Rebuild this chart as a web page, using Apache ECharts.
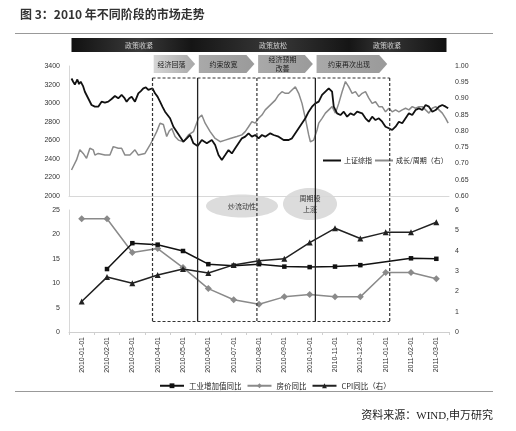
<html>
<head>
    <meta http-equiv="Content-Type" content="text/html; charset=utf-8" />
    <script type="text/javascript" src="https://cdn.jsdelivr.net/npm/echarts@6.0.0/dist/echarts.min.js"></script>
</head>
<body style="margin:0;background:#fff">
<div id="main" style="width:516px;height:431px"></div>

<script type="text/javascript">
    // 上证综指（左轴）
    var shDates = ['2010-01-04','2010-01-06','2010-01-08','2010-01-11','2010-01-13','2010-01-15','2010-01-18','2010-01-20','2010-01-25','2010-01-28',
        '2010-02-01','2010-02-05','2010-02-09','2010-02-13','2010-02-17','2010-02-21','2010-02-25','2010-03-01','2010-03-05','2010-03-08',
        '2010-03-11','2010-03-14','2010-03-17','2010-03-21','2010-03-25','2010-03-28','2010-03-31','2010-04-03','2010-04-06','2010-04-11',
        '2010-04-14','2010-04-17','2010-04-20','2010-04-23','2010-04-26','2010-05-02','2010-05-06','2010-05-10','2010-05-14','2010-05-18',
        '2010-05-22','2010-05-26','2010-05-30','2010-06-04','2010-06-09','2010-06-15','2010-06-21','2010-06-25','2010-06-29','2010-07-03',
        '2010-07-07','2010-07-11','2010-07-15','2010-07-19','2010-07-23','2010-07-27','2010-07-31','2010-08-04','2010-08-08','2010-08-12',
        '2010-08-16','2010-08-20','2010-08-24','2010-08-30','2010-09-03','2010-09-09','2010-09-15','2010-09-21','2010-09-25','2010-09-29',
        '2010-10-03','2010-10-07','2010-10-11','2010-10-15','2010-10-19','2010-10-23','2010-10-27','2010-10-31','2010-11-04','2010-11-08',
        '2010-11-12','2010-11-14','2010-11-18','2010-11-22','2010-11-26','2010-11-30','2010-12-04','2010-12-08','2010-12-12','2010-12-14',
        '2010-12-18','2010-12-22','2010-12-26','2010-12-30','2011-01-03','2011-01-07','2011-01-11','2011-01-15','2011-01-19','2011-01-23',
        '2011-01-27','2011-01-31','2011-02-04','2011-02-08','2011-02-12','2011-02-16','2011-02-20','2011-02-24','2011-02-28','2011-03-04',
        '2011-03-08','2011-03-12','2011-03-16','2011-03-20','2011-03-24','2011-03-28','2011-03-31'];
    var shValues = [3265,3230,3200,3255,3205,3231,3180,3123,3034,2980,
        2962,2962,3016,3005,3016,3045,3077,3052,3088,3060,
        3016,3050,3070,3016,3106,3130,3160,3170,3142,3160,
        3106,3070,3016,2960,2908,2837,2746,2692,2638,2585,
        2620,2657,2567,2538,2603,2567,2603,2549,2441,2388,
        2441,2495,2459,2513,2567,2621,2639,2675,2639,2657,
        2621,2657,2639,2675,2657,2639,2603,2603,2621,2675,
        2729,2783,2837,2908,2962,2998,3016,3088,3124,3160,
        3124,2962,2890,2872,2908,2854,2890,2872,2908,2926,
        2890,2837,2800,2854,2818,2837,2800,2746,2729,2711,
        2746,2800,2783,2837,2890,2872,2926,2944,2926,2980,
        2962,2908,2926,2962,2980,2962,2944];

    // 成长/周期（右轴）
    var ratioDates = ['2010-01-04','2010-01-06','2010-01-10','2010-01-14','2010-01-18','2010-01-22','2010-01-26','2010-01-30','2010-02-01','2010-02-05',
        '2010-02-13','2010-02-19','2010-02-23','2010-03-01','2010-03-05','2010-03-09','2010-03-15','2010-03-21','2010-03-25','2010-04-02',
        '2010-04-08','2010-04-12','2010-04-16','2010-04-20','2010-04-24','2010-04-28','2010-05-01','2010-05-04','2010-05-08','2010-05-12',
        '2010-05-18','2010-05-24','2010-05-30','2010-06-01','2010-06-05','2010-06-09','2010-06-13','2010-06-19','2010-06-25','2010-07-01',
        '2010-07-07','2010-07-13','2010-07-21','2010-07-27','2010-07-31','2010-08-04','2010-08-08','2010-08-12','2010-08-16','2010-08-20',
        '2010-08-24','2010-08-28','2010-09-01','2010-09-05','2010-09-09','2010-09-13','2010-09-17','2010-09-21','2010-09-25','2010-09-29',
        '2010-10-03','2010-10-07','2010-10-11','2010-10-15','2010-10-17','2010-10-21','2010-10-25','2010-10-27','2010-10-31','2010-11-04',
        '2010-11-08','2010-11-12','2010-11-16','2010-11-20','2010-11-24','2010-11-28','2010-11-30','2010-12-02','2010-12-06','2010-12-10',
        '2010-12-14','2010-12-18','2010-12-22','2010-12-26','2010-12-30','2011-01-03','2011-01-07','2011-01-11','2011-01-15','2011-01-19',
        '2011-01-23','2011-01-27','2011-01-31','2011-02-04','2011-02-08','2011-02-12','2011-02-16','2011-02-20','2011-02-24','2011-02-28',
        '2011-03-04','2011-03-08','2011-03-12','2011-03-16','2011-03-20','2011-03-24','2011-03-28','2011-03-31'];
    var ratioValues = [0.680,0.675,0.711,0.742,0.731,0.716,0.747,0.742,0.726,0.731,
        0.726,0.726,0.752,0.747,0.747,0.726,0.726,0.742,0.726,0.731,
        0.757,0.777,0.798,0.824,0.820,0.783,0.800,0.808,0.783,0.772,
        0.767,0.788,0.798,0.800,0.839,0.849,0.824,0.798,0.777,0.767,
        0.772,0.777,0.783,0.788,0.798,0.813,0.829,0.824,0.839,0.849,
        0.865,0.875,0.885,0.895,0.911,0.921,0.916,0.916,0.926,0.936,
        0.916,0.885,0.839,0.788,0.767,0.772,0.803,0.824,0.839,0.855,
        0.865,0.875,0.855,0.885,0.921,0.952,0.957,0.936,0.916,0.921,
        0.906,0.916,0.921,0.901,0.885,0.890,0.875,0.875,0.859,0.870,
        0.859,0.865,0.859,0.865,0.870,0.865,0.875,0.870,0.875,0.875,
        0.865,0.855,0.870,0.875,0.865,0.855,0.839,0.824];

    // 月度数据
    var months = ['2010-01-01','2010-02-01','2010-03-01','2010-04-01','2010-05-01','2010-06-01','2010-07-01','2010-08-01',
        '2010-09-01','2010-10-01','2010-11-01','2010-12-01','2011-01-01','2011-02-01','2011-03-01'];
    var ipValues = [null, 12.9, 18.2, 17.9, 16.6, 13.9, 13.6, 13.9, 13.4, 13.3, 13.4, 13.7, null, 15.1, 15.0];
    var housePrice = [23.2, 23.2, 16.3, 17.1, 13.2, 8.9, 6.6, 5.7, 7.2, 7.7, 7.2, 7.2, 12.2, 12.2, 10.9];
    var cpiValues = [1.5, 2.7, 2.4, 2.8, 3.1, 2.9, 3.3, 3.5, 3.6, 4.4, 5.1, 4.6, 4.9, 4.9, 5.4];

    // 阶段划分
    var phaseDates = ['2010-04-11', '2010-06-04', '2010-08-14', '2010-10-23', '2011-01-20'];
    var phaseNames = ['经济回落', '约束放宽', '经济预期\n改善', '约束再次出现'];
    var policyNames = ['政策收紧', '政策放松', '政策收紧'];

    var cjk = '"Noto Sans CJK SC", sans-serif';
    var latin = '"Liberation Sans", Arial, sans-serif';

    function zip(a, b) {
        var out = [];
        for (var i = 0; i < a.length; i++) out.push([a[i], b[i]]);
        return out;
    }

    function toTime(s) {
        var p = s.split('-');
        return new Date(+p[0], +p[1] - 1, +p[2]).getTime();
    }

    var axisTxt = {fontSize: 7, color: '#333', fontFamily: latin};

    var option = {
        animation: false,
        backgroundColor: '#fff',
        grid: [
            {left: 69, right: 67, top: 66, height: 130},
            {left: 69, right: 67, top: 210, height: 122}
        ],
        legend: [
            {
                left: 318, top: 152, itemWidth: 18, itemHeight: 2, itemGap: 3,
                icon: 'rect',
                textStyle: {fontSize: 7, fontFamily: cjk, color: '#222', padding: [0, 0, 0, -2]},
                data: ['上证综指', '成长/周期（右）']
            },
            {
                left: 154, top: 377, itemWidth: 24, itemHeight: 6, itemGap: 5,
                textStyle: {fontSize: 7.5, fontFamily: cjk, color: '#222'},
                data: ['工业增加值同比', '房价同比', 'CPI同比（右）']
            }
        ],
        xAxis: [
            {
                type: 'time', gridIndex: 0,
                min: toTime('2010-01-01'), max: toTime('2011-04-01'),
                axisLine: {lineStyle: {color: '#d8d8d8'}},
                axisTick: {show: false},
                axisLabel: {show: false},
                splitLine: {show: false}
            },
            {
                type: 'category', gridIndex: 1, data: months, boundaryGap: true,
                axisLine: {lineStyle: {color: '#cfcfcf'}},
                axisTick: {show: true, length: 3, lineStyle: {color: '#cfcfcf'}},
                axisLabel: Object.assign({rotate: 90, interval: 0, margin: 5}, axisTxt)
            }
        ],
        yAxis: [
            {
                type: 'value', gridIndex: 0, min: 2000, max: 3400, interval: 200,
                axisLine: {show: true, lineStyle: {color: '#d8d8d8'}},
                axisTick: {show: false}, splitLine: {show: false},
                axisLabel: Object.assign({margin: 9, formatter: function (v) { return String(v); }}, axisTxt)
            },
            {
                type: 'value', gridIndex: 0, min: 0.6, max: 1.0, interval: 0.05, position: 'right',
                axisLine: {show: false}, axisTick: {show: false}, splitLine: {show: false},
                axisLabel: Object.assign({margin: 6, formatter: function (v) { return v.toFixed(2); }}, axisTxt)
            },
            {
                type: 'value', gridIndex: 1, min: 0, max: 25, interval: 5,
                axisLine: {show: true, lineStyle: {color: '#d8d8d8'}},
                axisTick: {show: false}, splitLine: {show: false},
                axisLabel: Object.assign({margin: 9}, axisTxt)
            },
            {
                type: 'value', gridIndex: 1, min: 0, max: 6, interval: 1, position: 'right',
                axisLine: {show: false}, axisTick: {show: false}, splitLine: {show: false},
                axisLabel: Object.assign({margin: 6}, axisTxt)
            }
        ],
        series: [
            {
                name: '上证综指', type: 'line', xAxisIndex: 0, yAxisIndex: 0,
                data: zip(shDates, shValues), showSymbol: false, z: 4,
                itemStyle: {color: '#111'}, lineStyle: {color: '#111', width: 1.8}
            },
            {
                name: '成长/周期（右）', type: 'line', xAxisIndex: 0, yAxisIndex: 1,
                data: zip(ratioDates, ratioValues), showSymbol: false, z: 3,
                itemStyle: {color: '#8a8a8a'}, lineStyle: {color: '#8a8a8a', width: 1.5}
            },
            {
                name: '工业增加值同比', type: 'line', xAxisIndex: 1, yAxisIndex: 2,
                data: ipValues, connectNulls: true, symbol: 'rect', symbolSize: 4.5, z: 4,
                itemStyle: {color: '#111'}, lineStyle: {color: '#111', width: 1.5}
            },
            {
                name: '房价同比', type: 'line', xAxisIndex: 1, yAxisIndex: 2,
                data: housePrice, symbol: 'diamond', symbolSize: 7, z: 3,
                itemStyle: {color: '#8a8a8a'}, lineStyle: {color: '#8a8a8a', width: 1.5}
            },
            {
                name: 'CPI同比（右）', type: 'line', xAxisIndex: 1, yAxisIndex: 3,
                data: cpiValues, symbol: 'triangle', symbolSize: 6, z: 4,
                itemStyle: {color: '#222'}, lineStyle: {color: '#222', width: 1.5}
            }
        ]
    };

    var myChart = echarts.init(document.getElementById('main'));
    myChart.setOption(option);

    // 注释图形：标题、阶段箭头、虚线框、椭圆
    function buildGraphic() {
        var px = phaseDates.map(function (d) {
            return myChart.convertToPixel({xAxisIndex: 0}, toTime(d));
        });
        var g = [];
        g.push({type: 'text', left: 20, top: 8, style: {text: '图 3：2010 年不同阶段的市场走势', font: 'bold 12px ' + cjk, fill: '#333'}});
        g.push({type: 'line', shape: {x1: 15, y1: 33.5, x2: 493, y2: 33.5}, style: {stroke: '#999', lineWidth: 1}});
        g.push({type: 'line', shape: {x1: 15, y1: 391.5, x2: 493, y2: 391.5}, style: {stroke: '#999', lineWidth: 1}});
        g.push({type: 'text', right: 23, top: 411, style: {text: '资料来源：WIND,申万研究', font: '11px "Liberation Serif", ' + cjk, fill: '#222'}});

        // 政策横幅
        g.push({
            type: 'rect', shape: {x: 71.5, y: 38, width: 375, height: 14},
            style: {fill: new echarts.graphic.LinearGradient(0, 0, 1, 0, [
                {offset: 0, color: '#111'}, {offset: 0.18, color: '#3a3a3a'}, {offset: 0.32, color: '#151515'},
                {offset: 0.54, color: '#383838'}, {offset: 0.74, color: '#151515'}, {offset: 0.84, color: '#353535'},
                {offset: 1, color: '#111'}])}
        });
        var bannerX = [139, 273, 387];
        for (var b = 0; b < policyNames.length; b++) {
            g.push({type: 'text', x: bannerX[b], y: 45, style: {text: policyNames[b], font: '7px ' + cjk, fill: '#cfcfcf', align: 'center', verticalAlign: 'middle'}});
        }

        // 阶段箭头
        for (var i = 0; i < phaseNames.length; i++) {
            var x0 = px[i] + 1.2, x1 = px[i + 1] - 2.5;
            var light = i === 0;
            g.push({
                type: 'polygon',
                shape: {points: [[x0, 55], [x1 - 8, 55], [x1, 64], [x1 - 8, 73], [x0, 73]]},
                style: {fill: new echarts.graphic.LinearGradient(0, 0, 1, 0, [
                    {offset: 0, color: light ? '#d6d6d6' : '#a9a9a9'},
                    {offset: 1, color: light ? '#a8a8a8' : '#9a9a9a'}])}
            });
            g.push({
                type: 'text', x: (x0 + x1 - 6) / 2, y: 64,
                style: {text: phaseNames[i], font: '7px ' + cjk, fill: '#222', align: 'center', verticalAlign: 'middle', lineHeight: 9}
            });
        }

        // 虚线框与实线
        var yTop = 78, yBot = 321.5;
        var dash = {stroke: '#333', lineWidth: 1.2, lineDash: [3, 2]};
        var solid = {stroke: '#222', lineWidth: 1.3};
        g.push({type: 'line', shape: {x1: px[0], y1: yTop, x2: px[4], y2: yTop}, style: dash, z: 10});
        g.push({type: 'line', shape: {x1: px[0], y1: yBot, x2: px[4], y2: yBot}, style: dash, z: 10});
        for (var k = 0; k < px.length; k++) {
            g.push({type: 'line', shape: {x1: px[k], y1: yTop, x2: px[k], y2: yBot}, style: (k % 2 === 0) ? dash : solid, z: 10});
        }

        // 椭圆标注
        g.push({type: 'ellipse', shape: {cx: 242, cy: 206, rx: 36, ry: 11.5}, style: {fill: '#dcdcdc'}, z: 0});
        g.push({type: 'text', x: 242, y: 206, style: {text: '炒流动性', font: '7px ' + cjk, fill: '#333', align: 'center', verticalAlign: 'middle'}, z: 1});
        g.push({type: 'ellipse', shape: {cx: 310, cy: 204, rx: 27, ry: 16}, style: {fill: '#dcdcdc'}, z: 0});
        g.push({type: 'text', x: 310, y: 204, style: {text: '周期股\n上涨', font: '7px ' + cjk, fill: '#333', align: 'center', verticalAlign: 'middle', lineHeight: 11}, z: 1});
        return g;
    }

    myChart.setOption({graphic: buildGraphic()});
</script>
</body>
</html>
